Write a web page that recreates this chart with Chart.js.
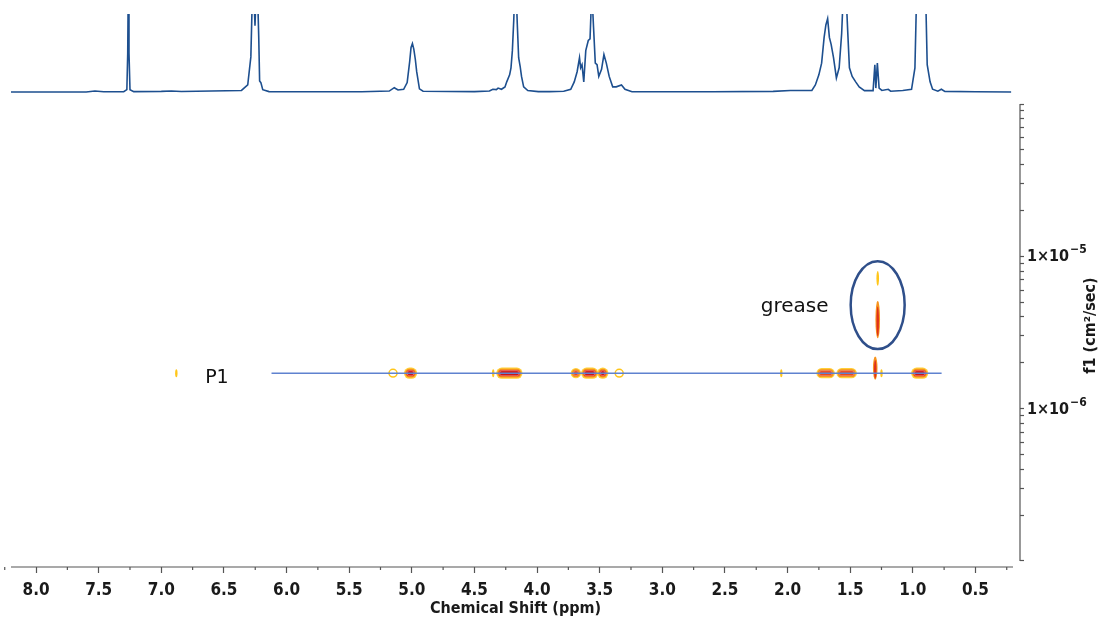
<!DOCTYPE html>
<html>
<head>
<meta charset="utf-8">
<title>DOSY P1</title>
<script src="https://cdn.jsdelivr.net/npm/chart.js@4.4.1/dist/chart.umd.min.js"></script>
<style>
  body { margin: 0; background: #fff; }
  #wrap { position: relative; width: 1101px; height: 620px; }
  canvas { position: absolute; left: 0; top: 0; }
</style>
</head>
<body>
<div id="wrap">
  <canvas id="dosyChart" width="1101" height="620"></canvas>
  <canvas id="protonChart" width="1101" height="620"></canvas>
</div>
<script>
// 1H projection (ppm, relative intensity; 1 = top of the strip, peaks above are cut)
const specShift = [8.20, 7.60, 7.53, 7.46, 7.30, 7.275, 7.268, 7.264, 7.258, 7.25, 7.22, 7.00, 6.92, 6.84,
  6.36, 6.31, 6.285, 6.272, 6.262, 6.252, 6.242, 6.232, 6.222, 6.215, 6.205, 6.19, 6.14,
  5.40, 5.18, 5.14, 5.11, 5.065, 5.037, 5.017, 5.006, 4.995, 4.984, 4.972, 4.961, 4.939, 4.91,
  4.50, 4.38, 4.353, 4.325, 4.311, 4.284, 4.256, 4.242, 4.219, 4.208, 4.197, 4.186, 4.178, 4.167, 4.158,
  4.147, 4.135, 4.124, 4.107, 4.074, 3.99, 3.90, 3.787, 3.731, 3.703, 3.68, 3.661, 3.652, 3.641, 3.627,
  3.611, 3.591, 3.577, 3.563, 3.549, 3.535, 3.521, 3.507, 3.485, 3.466, 3.447, 3.424, 3.396, 3.368,
  3.326, 3.298, 3.242, 2.60, 2.115, 1.977, 1.806, 1.778, 1.75, 1.728, 1.708, 1.694, 1.68, 1.666, 1.652,
  1.633, 1.61, 1.588, 1.568, 1.554, 1.534, 1.52, 1.506, 1.484, 1.456, 1.428, 1.386, 1.317, 1.303, 1.295,
  1.283, 1.269, 1.247, 1.196, 1.177, 1.08, 1.01, 0.983, 0.969, 0.898, 0.885, 0.862, 0.842, 0.80, 0.772,
  0.744, 0.50, 0.215];
const specInt = [0, 0, 0.012, 0.003, 0.004, 0.03, 0.5, 1.3, 0.5, 0.03, 0.005, 0.008, 0.012, 0.006,
  0.02, 0.09, 0.45, 1.3, 1.3, 0.85, 1.3, 1.3, 0.7, 0.14, 0.12, 0.03, 0.005,
  0.003, 0.012, 0.055, 0.025, 0.035, 0.12, 0.39, 0.57, 0.62, 0.55, 0.42, 0.26, 0.04, 0.01,
  0.005, 0.012, 0.035, 0.03, 0.05, 0.035, 0.065, 0.13, 0.22, 0.31, 0.53, 0.92, 1.3, 1.3, 0.88,
  0.44, 0.33, 0.2, 0.066, 0.018, 0.005, 0.005, 0.01, 0.035, 0.13, 0.26, 0.44, 0.31, 0.35, 0.13,
  0.53, 0.66, 0.68, 1.3, 0.83, 0.37, 0.35, 0.2, 0.29, 0.48, 0.37, 0.2, 0.066, 0.066,
  0.09, 0.035, 0.003, 0.003, 0.008, 0.02, 0.02, 0.09, 0.22, 0.37, 0.7, 0.86, 0.94, 0.7, 0.61,
  0.44, 0.18, 0.31, 0.75, 1.3, 1.3, 0.79, 0.31, 0.2, 0.13, 0.066, 0.018, 0.018, 0.35, 0.05,
  0.37, 0.05, 0.02, 0.035, 0.01, 0.02, 0.035, 0.31, 1.3, 1.3, 0.35, 0.13, 0.035, 0.01, 0.035,
  0.008, 0.003, 0];

// DOSY cross peaks (ppm, D in cm2/s, half width in ppm, level 0 = trace, 1 = ring, 2 = medium, 3 = strong)
const crossShift = [6.88, 5.15, 5.01, 4.35, 4.221, 3.69, 3.58, 3.475, 3.344, 2.05, 1.696, 1.528, 1.25, 0.945];
const crossD = [1.71e-6, 1.71e-6, 1.71e-6, 1.71e-6, 1.71e-6, 1.71e-6, 1.71e-6, 1.71e-6, 1.71e-6, 1.71e-6, 1.71e-6, 1.71e-6, 1.71e-6, 1.71e-6];
const crossHalfWidth = [0, 0.004, 0.008, 0, 0.06, 0, 0.024, 0, 0.004, 0, 0.032, 0.04, 0, 0.024];
const crossLevel = [0, 1, 3, 0, 3, 2, 3, 3, 1, 0, 2, 2, 0, 3];

// grease streaks at 1.28-1.30 ppm (top D, bottom D)
const greaseShift = [1.28, 1.28, 1.30];
const greaseTop = [8.0e-6, 5.1e-6, 2.2e-6];
const greaseBottom = [6.4e-6, 2.9e-6, 1.55e-6];

// fitted diffusion line for P1
const lineShift = [6.12, 0.77];
const lineD = [1.71e-6, 1.71e-6];

// annotations
const noteText = ['P1', 'grease'];
const noteShift = [6.556, 1.943];
const noteD = [1.59e-6, 4.65e-6];
const circleShift = [1.496, 1.065];
const circleD = [9.3e-6, 2.46e-6];

// axes
const xMajorTicks = [8.0, 7.5, 7.0, 6.5, 6.0, 5.5, 5.0, 4.5, 4.0, 3.5, 3.0, 2.5, 2.0, 1.5, 1.0, 0.5];
const xMinorTicks = [8.25, 7.75, 7.25, 6.75, 6.25, 5.75, 5.25, 4.75, 4.25, 3.75, 3.25, 2.75, 2.25, 1.75, 1.25, 0.75, 0.25];
const yTickValues = [1e-7, 2e-7, 3e-7, 4e-7, 5e-7, 6e-7, 7e-7, 8e-7, 9e-7,
  1e-6, 2e-6, 3e-6, 4e-6, 5e-6, 6e-6, 7e-6, 8e-6, 9e-6,
  1e-5, 2e-5, 3e-5, 4e-5, 5e-5, 6e-5, 7e-5, 8e-5, 9e-5, 1e-4];
const yLabelValues = [1e-5, 1e-6];
const yLabelBase = ['1×10', '1×10'];
const yLabelExp = ['−5', '−6'];

const axisFont = "'Liberation Sans Narrow', 'DejaVu Sans Condensed', sans-serif";
const noteFont = "'DejaVu Sans', sans-serif";

function drawBlob(ctx, cx, cy, hw, level) {
    if (level === 0) {
        ctx.fillStyle = '#ffc61a';
        ctx.beginPath(); ctx.ellipse(cx, cy, 1.2, 4, 0, 0, 2 * Math.PI); ctx.fill();
        return;
    }
    if (level === 1) {
        ctx.strokeStyle = '#ffc61a'; ctx.lineWidth = 1.5;
        ctx.beginPath(); ctx.ellipse(cx, cy, hw + 3.5, 3.8, 0, 0, 2 * Math.PI); ctx.stroke();
        return;
    }
    const layers = level === 3
        ? [[5.6, '#ffcf3a'], [4.4, '#f7921c'], [3.2, '#e63a1e'], [2, '#c8161a']]
        : [[5.2, '#ffcf3a'], [3.9, '#f7921c'], [2.6, '#ea4a1f']];
    layers.forEach(([r, c]) => {
        ctx.fillStyle = c;
        ctx.beginPath();
        ctx.roundRect(cx - hw - r, cy - r, 2 * (hw + r), 2 * r, r);
        ctx.fill();
    });
    ctx.strokeStyle = 'rgba(240,215,255,0.4)'; ctx.lineWidth = 0.7;
    ctx.beginPath();
    ctx.roundRect(cx - hw - 2.5, cy - 2.5, 2 * (hw + 2.5), 5, 2.5);
    ctx.stroke();
}

const dosyMarks = {
    id: 'dosyMarks',
    beforeDatasetsDraw(chart) {
        const { ctx, scales: { x, y } } = chart;
        ctx.save();
        crossShift.forEach((s, i) => {
            const cx = x.getPixelForValue(s);
            const cy = y.getPixelForValue(crossD[i]);
            const hw = Math.abs(x.getPixelForValue(s - crossHalfWidth[i]) - cx);
            drawBlob(ctx, cx, cy, hw, crossLevel[i]);
        });
        greaseShift.forEach((s, i) => {
            const cx = x.getPixelForValue(s);
            const t = y.getPixelForValue(greaseTop[i]);
            const b = y.getPixelForValue(greaseBottom[i]);
            const my = (t + b) / 2, ry = (b - t) / 2;
            if (i === 0) {
                ctx.fillStyle = '#ffc61a';
                ctx.beginPath(); ctx.ellipse(cx, my, 1.3, ry, 0, 0, 2 * Math.PI); ctx.fill();
            } else {
                ctx.fillStyle = '#f7941d';
                ctx.beginPath(); ctx.ellipse(cx, my, 2.3, ry, 0, 0, 2 * Math.PI); ctx.fill();
                ctx.fillStyle = '#e0301c';
                ctx.beginPath(); ctx.ellipse(cx, my + ry * 0.1, 1.2, ry * 0.8, 0, 0, 2 * Math.PI); ctx.fill();
            }
        });
        ctx.restore();
    },
    afterDraw(chart) {
        const { ctx, chartArea, scales: { x, y } } = chart;
        ctx.save();
        ctx.strokeStyle = '#555';
        ctx.lineWidth = 1.2;
        // x axis line and minor ticks
        const bottom = chartArea.bottom;
        ctx.beginPath();
        ctx.moveTo(x.getPixelForValue(8.2), bottom);
        ctx.lineTo(x.getPixelForValue(0.2), bottom);
        xMinorTicks.forEach(v => {
            const px = x.getPixelForValue(v);
            ctx.moveTo(px, bottom);
            ctx.lineTo(px, bottom + 3);
        });
        // diffusion axis line
        ctx.moveTo(chartArea.right, y.getPixelForValue(1e-4));
        ctx.lineTo(chartArea.right, y.getPixelForValue(1e-7));
        ctx.stroke();

        // diffusion tick labels with superscript exponent
        ctx.fillStyle = '#1a1a1a';
        ctx.textBaseline = 'middle';
        ctx.textAlign = 'left';
        yLabelValues.forEach((v, i) => {
            const py = y.getPixelForValue(v);
            const lx = chartArea.right + 7;
            ctx.font = 'bold 16px ' + axisFont;
            ctx.fillText(yLabelBase[i], lx, py + 1);
            const w = ctx.measureText(yLabelBase[i]).width;
            ctx.font = 'bold 12px ' + axisFont;
            ctx.fillText(yLabelExp[i], lx + w + 1, py - 6);
        });

        // diffusion axis title
        ctx.font = 'bold 16px ' + axisFont;
        ctx.textAlign = 'center';
        ctx.save();
        ctx.translate(1091, (y.getPixelForValue(1e-4) + y.getPixelForValue(1e-7)) / 2 - 7);
        ctx.rotate(-Math.PI / 2);
        ctx.fillText('f1 (cm²/sec)', 0, 0);
        ctx.restore();

        // labels
        ctx.fillStyle = '#111';
        noteText.forEach((t, i) => {
            ctx.font = (i === 0 ? '19px ' : '20px ') + noteFont;
            ctx.fillText(t, x.getPixelForValue(noteShift[i]), y.getPixelForValue(noteD[i]));
        });
        // circle round the grease signal
        const x0 = x.getPixelForValue(circleShift[0]), x1 = x.getPixelForValue(circleShift[1]);
        const y0 = y.getPixelForValue(circleD[0]), y1 = y.getPixelForValue(circleD[1]);
        ctx.strokeStyle = '#2f4f8a';
        ctx.lineWidth = 2.5;
        ctx.beginPath();
        ctx.ellipse((x0 + x1) / 2, (y0 + y1) / 2, (x1 - x0) / 2, (y1 - y0) / 2, 0, 0, 2 * Math.PI);
        ctx.stroke();
        ctx.restore();
    }
};

// 2D DOSY chart
const dosyChart = new Chart(document.getElementById('dosyChart'), {
    type: 'scatter',
    data: {
        datasets: [{
            label: 'P1',
            data: lineShift.map((s, i) => ({ x: s, y: lineD[i] })),
            showLine: true,
            borderColor: '#5f82cf',
            borderWidth: 1.5,
            pointRadius: 0
        }]
    },
    options: {
        responsive: false,
        animation: false,
        devicePixelRatio: 1,
        layout: { padding: { left: 11, top: 104, right: 0, bottom: 0 } },
        plugins: { legend: { display: false }, tooltip: { enabled: false } },
        scales: {
            x: {
                type: 'linear',
                reverse: true,
                min: 0.2 - 7 / 125.25,
                max: 8.2,
                border: { display: false },
                grid: { drawOnChartArea: false, tickLength: 6, color: '#555', tickWidth: 1.2 },
                afterBuildTicks: s => { s.ticks = xMajorTicks.map(v => ({ value: v })); },
                afterFit: s => { s.height = 53; },
                ticks: {
                    autoSkip: false,
                    maxRotation: 0,
                    padding: 7,
                    color: '#1a1a1a',
                    font: { family: axisFont, size: 17, weight: 'bold' },
                    callback: v => Number(v).toFixed(1)
                },
                title: {
                    display: true,
                    text: 'Chemical Shift (ppm)',
                    color: '#1a1a1a',
                    font: { family: axisFont, size: 16, weight: 'bold' },
                    padding: { top: 0, bottom: 2 }
                }
            },
            y: {
                type: 'logarithmic',
                position: 'right',
                min: Math.pow(10, -7 - 6 / 152.3),
                max: 1e-4,
                border: { display: false },
                grid: { drawOnChartArea: false, tickLength: 4, color: '#555', tickWidth: 1.2 },
                afterBuildTicks: s => { s.ticks = yTickValues.map(v => ({ value: v })); },
                afterFit: s => { s.width = 81; },
                ticks: { autoSkip: false, callback: () => '' }
            }
        }
    },
    plugins: [dosyMarks]
});

// 1H projection on top
const protonChart = new Chart(document.getElementById('protonChart'), {
    type: 'scatter',
    data: {
        datasets: [{
            label: '1H',
            data: specShift.map((s, i) => ({ x: s, y: specInt[i] })),
            showLine: true,
            borderColor: '#1d4f8f',
            borderWidth: 1.6,
            pointRadius: 0,
            tension: 0,
            clip: { left: 3, right: 3, top: 0, bottom: 3 }
        }]
    },
    options: {
        responsive: false,
        animation: false,
        devicePixelRatio: 1,
        layout: { padding: { left: 11, right: 88, top: 14, bottom: 527 } },
        plugins: { legend: { display: false }, tooltip: { enabled: false } },
        scales: {
            x: { type: 'linear', reverse: true, min: 0.2, max: 8.2, display: false },
            y: { type: 'linear', min: -0.013, max: 1, display: false }
        }
    }
});
</script>
</body>
</html>
